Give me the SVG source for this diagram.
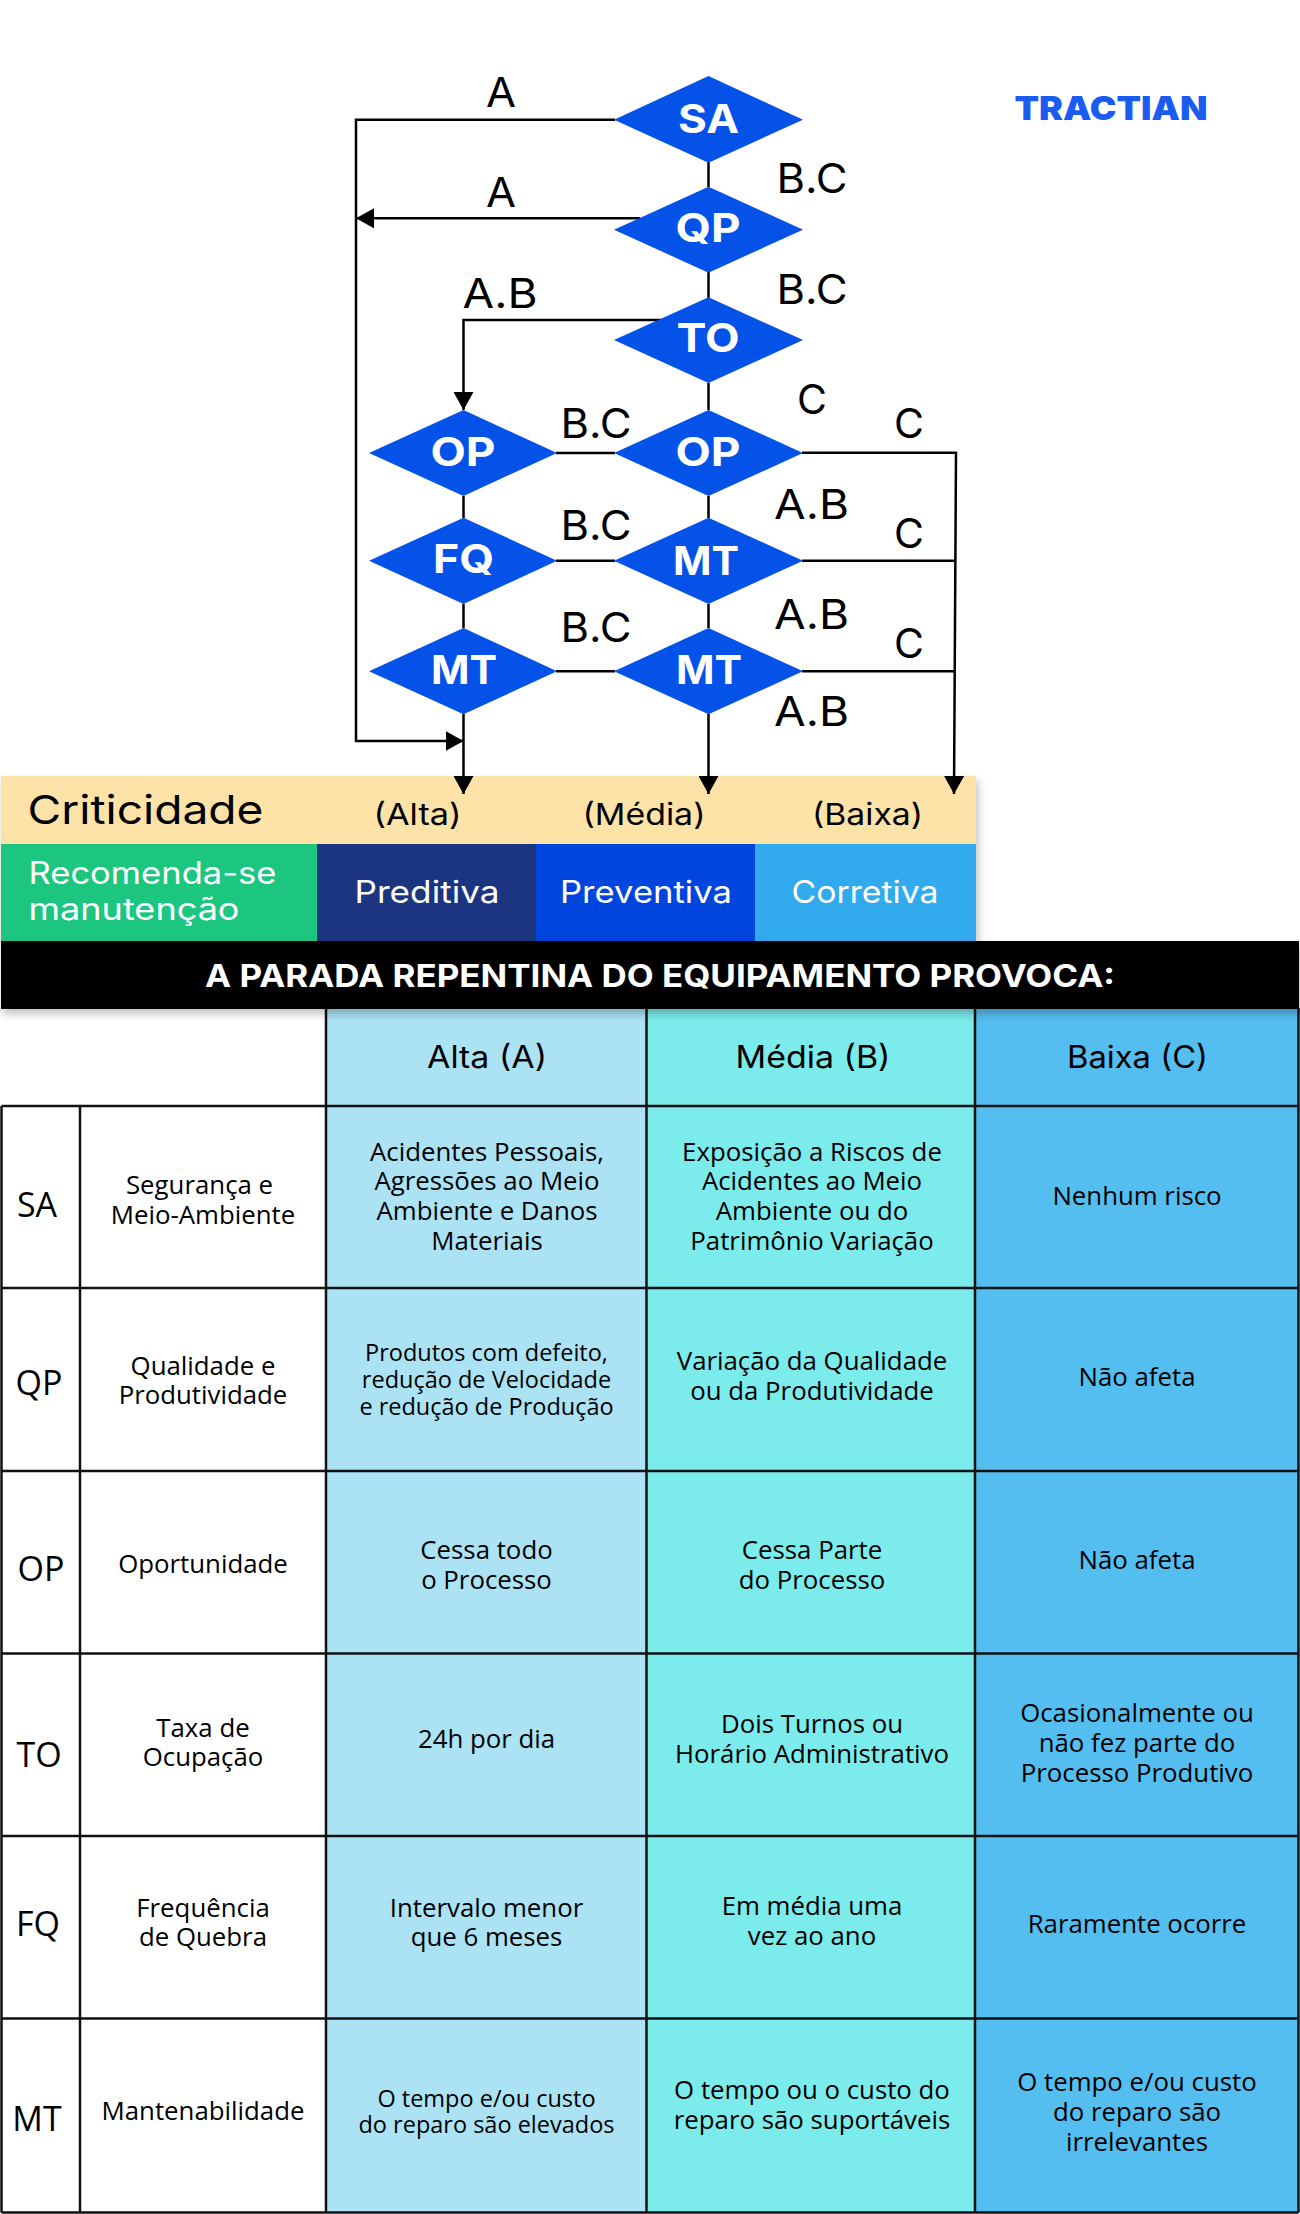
<svg xmlns="http://www.w3.org/2000/svg" width="1300" height="2214" viewBox="0 0 1300 2214">
<defs>
<filter id="sh" x="-5%" y="-20%" width="110%" height="150%"><feDropShadow dx="2" dy="5" stdDeviation="4" flood-color="#000" flood-opacity="0.25"/></filter>
<marker id="ah" markerUnits="userSpaceOnUse" markerWidth="20" markerHeight="20" refX="18" refY="10" orient="auto"><path d="M0 0L18 10L0 20Z" fill="#000"/></marker>
</defs>
<style>
text{font-family:"Open Sans","Noto Sans",sans-serif;fill:#000;font-size:25.800px;text-anchor:middle}
.m{font-family:Inter,"Liberation Sans",sans-serif}
.d{font-family:Inter,"Liberation Sans",sans-serif;font-size:40px;font-weight:700;fill:#fff}
.e{font-family:Inter,"Liberation Sans",sans-serif;font-size:41px}
.diamond{fill:#0552e9}
.cn{fill:none;stroke:#000;stroke-width:2.5}
.gr{stroke:#111;stroke-width:2.5;fill:none}
.code{font-size:34px}
.s{font-size:23.500px}
</style>
<rect width="1300" height="2214" fill="#fff"/>
<g id="banner">
<g filter="url(#sh)">
<rect x="1" y="776" width="975" height="68" fill="#fde3a7"/>
<rect x="1" y="844" width="316" height="97" fill="#1cc67f"/>
<rect x="317" y="844" width="219" height="97" fill="#1e3480"/>
<rect x="536" y="844" width="219" height="97" fill="#0245dd"/>
<rect x="755" y="844" width="221" height="97" fill="#33aaee"/>
</g>
<text class="m" x="27.500" y="824" style="text-anchor:start;font-size:40px" textLength="236" lengthAdjust="spacingAndGlyphs">Criticidade</text>
<text class="m" x="417.500" y="825" style="font-size:30px" textLength="88" lengthAdjust="spacingAndGlyphs">(Alta)</text>
<text class="m" x="644" y="825" style="font-size:30px" textLength="123" lengthAdjust="spacingAndGlyphs">(Média)</text>
<text class="m" x="867.500" y="825" style="font-size:30px" textLength="111" lengthAdjust="spacingAndGlyphs">(Baixa)</text>
<text class="m" x="28.500" y="884" style="text-anchor:start;font-size:31px;fill:#fff" textLength="248" lengthAdjust="spacingAndGlyphs">Recomenda-se</text>
<text class="m" x="28.500" y="920" style="text-anchor:start;font-size:31px;fill:#fff" textLength="211" lengthAdjust="spacingAndGlyphs">manutenção</text>
<text class="m" x="427" y="903" style="font-size:31px;fill:#fff" textLength="145" lengthAdjust="spacingAndGlyphs">Preditiva</text>
<text class="m" x="646" y="903" style="font-size:31px;fill:#fff" textLength="172" lengthAdjust="spacingAndGlyphs">Preventiva</text>
<text class="m" x="865" y="903" style="font-size:31px;fill:#fff" textLength="147" lengthAdjust="spacingAndGlyphs">Corretiva</text>
</g>
<g id="table">
<rect x="326" y="1008" width="320.500" height="1204.500" fill="#abe3f5"/>
<rect x="646.500" y="1008" width="328.500" height="1204.500" fill="#7cebeb"/>
<rect x="975" y="1008" width="324" height="1204.500" fill="#55bef0"/>
<path class="gr" d="M326 1008V2212.500M646.500 1008V2212.500M975 1008V2212.500M1298.500 1008V2212.500M1.500 1106V2212.500M80 1106V2212.500M1.500 1106H1298.500M1.500 1288H1298.500M1.500 1471H1298.500M1.500 1653.500H1298.500M1.500 1836H1298.500M1.500 2018.500H1298.500M1.500 2212.500H1298.500"/>
<text class="m" x="487" y="1068" style="font-size:31px" textLength="120" lengthAdjust="spacingAndGlyphs">Alta (A)</text>
<text class="m" x="813" y="1068" style="font-size:31px" textLength="155" lengthAdjust="spacingAndGlyphs">Média (B)</text>
<text class="m" x="1137.500" y="1068" style="font-size:31px" textLength="141" lengthAdjust="spacingAndGlyphs">Baixa (C)</text>
<text class="code" x="37" y="1217">SA</text><text class="code" x="39" y="1395">QP</text><text class="code" x="41" y="1581">OP</text><text class="code" x="39" y="1767">TO</text><text class="code" x="38" y="1936">FQ</text><text class="code" x="37" y="2131">MT</text>
<text x="199.500" y="1194">Segurança e</text><text x="203" y="1224">Meio-Ambiente</text>
<text x="203" y="1375">Qualidade e</text><text x="203" y="1404">Produtividade</text>
<text x="203" y="1573">Oportunidade</text>
<text x="203" y="1737">Taxa de</text><text x="203" y="1766">Ocupação</text>
<text x="203" y="1917">Frequência</text><text x="203" y="1946">de Quebra</text>
<text x="203" y="2120">Mantenabilidade</text>
<text x="487" y="1161">Acidentes Pessoais,</text><text x="487" y="1190">Agressões ao Meio</text><text x="487" y="1220">Ambiente e Danos</text><text x="487" y="1250">Materiais</text>
<text class="s" x="486.500" y="1361">Produtos com defeito,</text><text class="s" x="486.500" y="1388">redução de Velocidade</text><text class="s" x="486.500" y="1415">e redução de Produção</text>
<text x="486.500" y="1559">Cessa todo</text><text x="486.500" y="1589">o Processo</text>
<text x="486.500" y="1748">24h por dia</text>
<text x="486.500" y="1917">Intervalo menor</text><text x="486.500" y="1946">que 6 meses</text>
<text class="s" x="486.500" y="2107">O tempo e/ou custo</text><text class="s" x="486.500" y="2133">do reparo são elevados</text>
<text x="812" y="1161">Exposição a Riscos de</text><text x="812" y="1190">Acidentes ao Meio</text><text x="812" y="1220">Ambiente ou do</text><text x="812" y="1250">Patrimônio Variação</text>
<text x="812" y="1370">Variação da Qualidade</text><text x="812" y="1400">ou da Produtividade</text>
<text x="812" y="1559">Cessa Parte</text><text x="812" y="1589">do Processo</text>
<text x="812" y="1733">Dois Turnos ou</text><text x="812" y="1763">Horário Administrativo</text>
<text x="812" y="1915">Em média uma</text><text x="812" y="1945">vez ao ano</text>
<text x="812" y="2099">O tempo ou o custo do</text><text x="812" y="2129">reparo são suportáveis</text>
<text x="1137" y="1205">Nenhum risco</text>
<text x="1137" y="1386">Não afeta</text>
<text x="1137" y="1569">Não afeta</text>
<text x="1137" y="1722">Ocasionalmente ou</text><text x="1137" y="1752">não fez parte do</text><text x="1137" y="1782">Processo Produtivo</text>
<text x="1137" y="1933">Raramente ocorre</text>
<text x="1137" y="2091">O tempo e/ou custo</text><text x="1137" y="2121">do reparo são</text><text x="1137" y="2151">irrelevantes</text>
</g>
<g id="title" filter="url(#sh)">
<rect x="1" y="941" width="1298" height="68" fill="#000"/>
</g>
<text x="660" y="987" style="font-family:Inter,'Liberation Sans',sans-serif;font-size:31px;font-weight:700;fill:#fff" textLength="910" lengthAdjust="spacingAndGlyphs">A PARADA REPENTINA DO EQUIPAMENTO PROVOCA:</text>
<g id="connectors">
<path class="cn" d="M615 119.700H356V741H463.500" marker-end="url(#ah)"/>
<path class="cn" d="M640 218.300H356" marker-end="url(#ah)"/>
<path class="cn" d="M665 320H463.500V410" marker-end="url(#ah)"/>
<path class="cn" d="M708.500 162V187M708.500 272V298M708.500 383V410M708.500 496V518M708.500 604V628"/>
<path class="cn" d="M463.500 496V518M463.500 604V628"/>
<path class="cn" d="M556 453H615M556 560.700H615M556 671.300H615"/>
<path class="cn" d="M802 452.700H956L954 794" marker-end="url(#ah)"/>
<path class="cn" d="M802 560.700H955M802 671.300H955"/>
<path class="cn" d="M463.500 714V794" marker-end="url(#ah)"/>
<path class="cn" d="M708.500 714V794" marker-end="url(#ah)"/>
</g>
<g id="SA"><path class="diamond" d="M708.500 76L803 119.700L708.500 162.700L614 119.700Z"/><text class="d" x="708.500" y="133" textLength="61" lengthAdjust="spacingAndGlyphs">SA</text></g>
<g id="QP"><path class="diamond" d="M708.500 186.700L803 229.700L708.500 272.700L614 229.700Z"/><text class="d" x="708" y="242" textLength="65" lengthAdjust="spacingAndGlyphs">QP</text></g>
<g id="TO"><path class="diamond" d="M708.500 297.300L803 340L708.500 383L614 340Z"/><text class="d" x="708" y="352" textLength="63" lengthAdjust="spacingAndGlyphs">TO</text></g>
<g id="OP2"><path class="diamond" d="M708.500 410L803 453L708.500 496L614 453Z"/><text class="d" x="708" y="466" textLength="65" lengthAdjust="spacingAndGlyphs">OP</text></g>
<g id="MT2"><path class="diamond" d="M708.500 517.700L803 560.700L708.500 604L614 560.700Z"/><text class="d" x="706" y="575" textLength="66" lengthAdjust="spacingAndGlyphs">MT</text></g>
<g id="MT4"><path class="diamond" d="M708.500 628L803 671.300L708.500 714.300L614 671.300Z"/><text class="d" x="709" y="684" textLength="66" lengthAdjust="spacingAndGlyphs">MT</text></g>
<g id="OP1"><path class="diamond" d="M463.500 410L557 453L463.500 496L369 453Z"/><text class="d" x="463" y="466" textLength="65" lengthAdjust="spacingAndGlyphs">OP</text></g>
<g id="FQ"><path class="diamond" d="M463.500 517.700L557 560.700L463.500 604L369 560.700Z"/><text class="d" x="463.500" y="573" textLength="61" lengthAdjust="spacingAndGlyphs">FQ</text></g>
<g id="MT3"><path class="diamond" d="M463.500 628L557 671.300L463.500 714.300L369 671.300Z"/><text class="d" x="464" y="684" textLength="66" lengthAdjust="spacingAndGlyphs">MT</text></g>
<g id="labels">
<text class="e" x="501" y="107" textLength="30" lengthAdjust="spacingAndGlyphs">A</text><text class="e" x="501" y="207" textLength="30" lengthAdjust="spacingAndGlyphs">A</text>
<text class="e" x="812" y="193" textLength="71" lengthAdjust="spacingAndGlyphs">B.C</text><text class="e" x="812" y="304" textLength="71" lengthAdjust="spacingAndGlyphs">B.C</text>
<text class="e" x="500" y="308" textLength="75" lengthAdjust="spacingAndGlyphs">A.B</text>
<text class="e" x="812" y="414">C</text><text class="e" x="909" y="438">C</text>
<text class="e" x="596" y="438" textLength="71" lengthAdjust="spacingAndGlyphs">B.C</text><text class="e" x="596" y="540" textLength="71" lengthAdjust="spacingAndGlyphs">B.C</text><text class="e" x="596" y="642" textLength="71" lengthAdjust="spacingAndGlyphs">B.C</text>
<text class="e" x="811.500" y="519" textLength="75" lengthAdjust="spacingAndGlyphs">A.B</text><text class="e" x="811.500" y="629" textLength="75" lengthAdjust="spacingAndGlyphs">A.B</text><text class="e" x="811.500" y="726" textLength="75" lengthAdjust="spacingAndGlyphs">A.B</text>
<text class="e" x="909" y="548">C</text><text class="e" x="909" y="658">C</text>
</g>
<g id="logo"><text x="1111" y="119.500" style="font-family:Inter,'Liberation Sans',sans-serif;font-size:33px;font-weight:900;fill:#1a5cf0" textLength="193" lengthAdjust="spacingAndGlyphs">TRACTIAN</text></g>
</svg>
